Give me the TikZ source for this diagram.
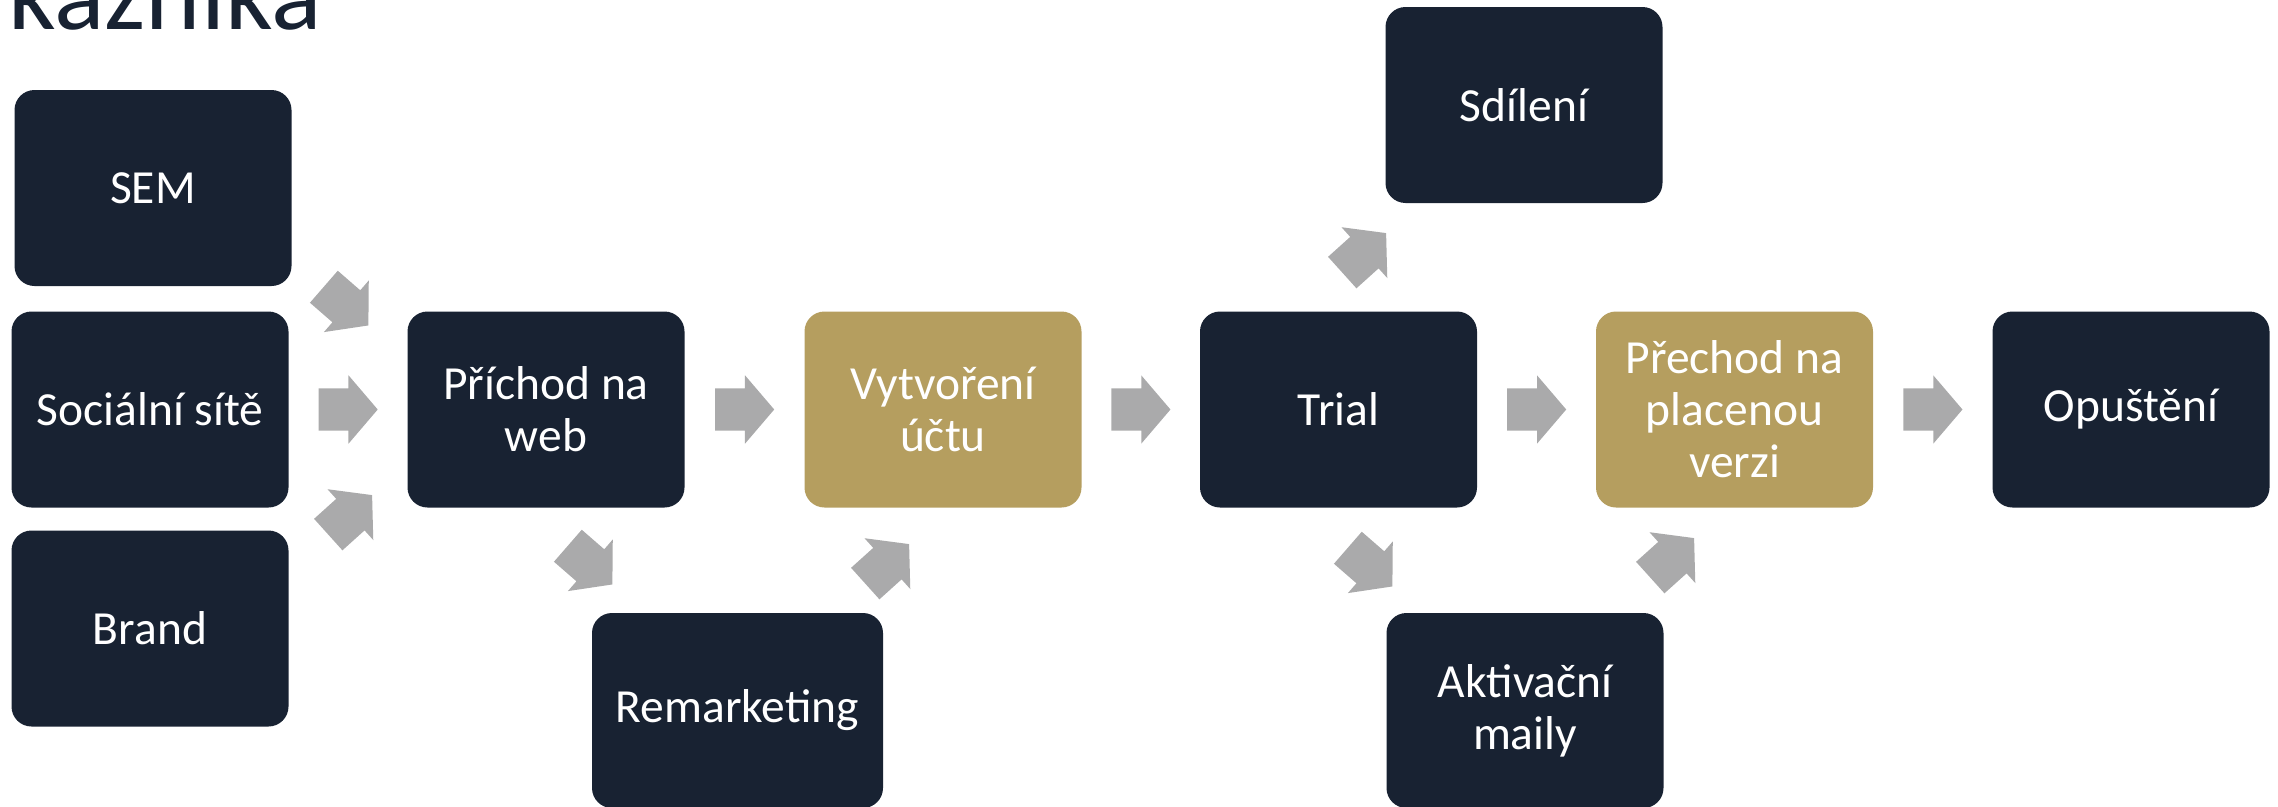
\documentclass[tikz,border=0pt]{standalone}
\usepackage{fontspec}
\setmainfont{Carlito}
\usetikzlibrary{shapes.arrows,calc}

\definecolor{boxnavy}{HTML}{182232}
\definecolor{boxgold}{HTML}{B59E5F}
\definecolor{arrowgray}{HTML}{AAAAAB}

\tikzset{
    stepbox/.style = {rectangle, rounded corners=20pt, fill=boxnavy, text=white,
        align=center, inner sep=0pt, minimum width=277pt, minimum height=196pt,
        font=\fontsize{47.5}{52}\selectfont},
    goldbox/.style = {stepbox, fill=boxgold},
    flowarrow/.style = {single arrow, fill=arrowgray, draw=none, anchor=tail,
        inner xsep=0pt, inner ysep=21pt, minimum height=59pt,
        single arrow head extend=13pt, single arrow tip angle=99}
}

\begin{document}
\begin{tikzpicture}[x=1pt, y=-1pt]
        \useasboundingbox (0,0) rectangle (2278,806);
        \clip (0,0) rectangle (2278,806);
        % title, cut at the top
        \node (title) [anchor=base west, inner sep=0pt, text=boxnavy,
            font=\fontsize{105}{120}\selectfont] at (8,29) {kazníka};
        % sources
        \node (sem) [stepbox] at (153,188) {SEM};
        \node (social) [stepbox] at (150,409.5) {Sociální sítě};
        \node (brand) [stepbox] at (150,628.5) {Brand};
        % main path
        \node (prichod) [stepbox] at (546,409.5) {Příchod na\\web};
        \node (ucet) [goldbox] at (943,409.5) {Vytvoření\\účtu};
        \node (trial) [stepbox] at (1338.5,409.5) {Trial};
        \node (placena) [goldbox] at (1734.5,409.5) {Přechod na\\placenou\\verzi};
        \node (opusteni) [stepbox] at (2131,409.5) {Opuštění};
        % side steps
        \node (remarketing) [stepbox, minimum width=291pt, minimum height=195pt] at (737.5,710.5) {Remarketing};
        \node (sdileni) [stepbox] at (1524,105) {Sdílení};
        \node (maily) [stepbox, minimum height=195pt] at (1525,710.5) {Aktivační\\maily};
        % arrows along the path (placed by their tails)
        \node (a-social) [flowarrow] at ($(social.east)!0.5!(prichod.west)+(-29.5,0)$) {};
        \node (a-prichod) [flowarrow] at ($(prichod.east)!0.5!(ucet.west)+(-29.5,0)$) {};
        \node (a-ucet) [flowarrow] at ($(ucet.east)!0.5!(trial.west)+(-29.5,0)$) {};
        \node (a-trial) [flowarrow] at ($(trial.east)!0.5!(placena.west)+(-29.5,0)$) {};
        \node (a-placena) [flowarrow] at ($(placena.east)!0.5!(opusteni.west)+(-29.5,0)$) {};
        % diagonal arrows
        \node (a-sem) [flowarrow, rotate=-41] at (323.7,286.6) {};
        \node (a-brand) [flowarrow, rotate=42] at (328.1,534.7) {};
        \node (a-remark-in) [flowarrow, rotate=-41] at (567.7,545.6) {};
        \node (a-remark-out) [flowarrow, rotate=42] at (865.1,583.7) {};
        \node (a-sdileni) [flowarrow, rotate=42] at (1342.1,272.7) {};
        \node (a-maily-in) [flowarrow, rotate=-41] at (1347.7,547.6) {};
        \node (a-maily-out) [flowarrow, rotate=42] at (1650.1,577.7) {};
\end{tikzpicture}
\end{document}
